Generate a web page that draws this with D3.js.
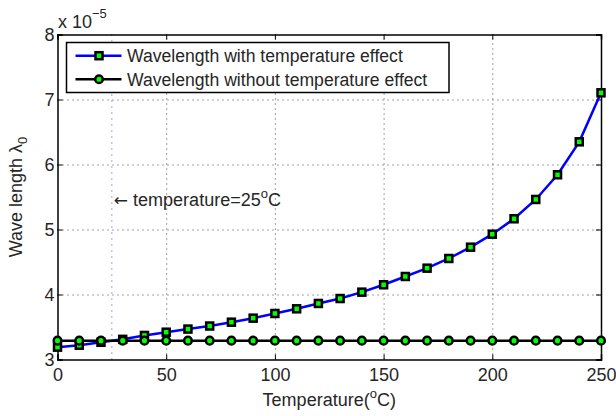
<!DOCTYPE html>
<html>
<head>
<meta charset="utf-8">
<script src="https://cdn.jsdelivr.net/npm/d3@7"></script>
<style>
  body { margin: 0; background: #fff; }
  svg text { font-family: "Liberation Sans", Arial, Helvetica, sans-serif; fill: #262626; }
</style>
</head>
<body>
<div id="graph1"></div>
<script>
// temperature in degrees C
const temps = [0, 10, 20, 30, 40, 50, 60, 70, 80, 90, 100, 110, 120, 130, 140, 150,
               160, 170, 180, 190, 200, 210, 220, 230, 240, 250]
// wavelength values, in units of 1e-5
const withTemp = [3.19, 3.22, 3.265, 3.31, 3.37, 3.42, 3.468, 3.515, 3.574, 3.636, 3.708,
                  3.78, 3.862, 3.938, 4.036, 4.15, 4.277, 4.405, 4.554, 4.728, 4.928,
                  5.165, 5.462, 5.842, 6.349, 7.103]
const withoutTemp = [3.29, 3.29, 3.29, 3.29, 3.29, 3.29, 3.29, 3.29, 3.29, 3.29, 3.29,
                     3.29, 3.29, 3.29, 3.29, 3.29, 3.29, 3.29, 3.29, 3.29, 3.29,
                     3.29, 3.29, 3.29, 3.29, 3.29]
const xTicks = [0, 50, 100, 150, 200, 250]
const yTicks = [3, 4, 5, 6, 7, 8]
const seriesNames = ["Wavelength with temperature effect", "Wavelength without temperature effect"]
const refTemp = 25

const width = 616, height = 416
const margin = {left: 57.5, right: 15, top: 34.5, bottom: 56.5}
const w = width - margin.left - margin.right
const h = height - margin.top - margin.bottom
const fs = "18px"

let svg = d3.select("#graph1")
    .append("svg")
    .attr("width", width)
    .attr("height", height)

let g = svg.append("g")
    .attr("transform", `translate(${margin.left}, ${margin.top})`)

let x = d3.scaleLinear().domain([0, 250]).range([0, w])
let y = d3.scaleLinear().domain([3, 8]).range([h, 0])

// dotted grid
let gridX = g.append("g")
    .attr("transform", `translate(0,${h})`)
    .call(d3.axisBottom(x).tickValues(xTicks.slice(1, -1)).tickSize(-h).tickFormat(""))
let gridY = g.append("g")
    .call(d3.axisLeft(y).tickValues(yTicks.slice(1, -1)).tickSize(-w).tickFormat(""))
;[gridX, gridY].forEach(gr => {
    gr.select(".domain").remove()
    gr.selectAll("line").attr("stroke", "#444").attr("stroke-width", 1).attr("stroke-dasharray", "1,4")
})

// reference line at 25 C
g.append("line")
    .attr("x1", x(refTemp)).attr("x2", x(refTemp))
    .attr("y1", 0).attr("y2", h)
    .attr("stroke", "#3b3bff")
    .attr("stroke-width", 1)
    .attr("stroke-dasharray", "1,5")

// axes, ticks pointing inward on all sides
let xAxis = g.append("g")
    .attr("transform", `translate(0,${h})`)
    .call(d3.axisBottom(x).tickValues(xTicks).tickSize(-5).tickPadding(8.5).tickFormat(d3.format("d")))
let xTop = g.append("g")
    .call(d3.axisTop(x).tickValues(xTicks).tickSize(-5).tickFormat(""))
let yAxis = g.append("g")
    .call(d3.axisLeft(y).tickValues(yTicks).tickSize(-5).tickPadding(3).tickFormat(d3.format("d")))
let yRight = g.append("g")
    .attr("transform", `translate(${w},0)`)
    .call(d3.axisRight(y).tickValues(yTicks).tickSize(-5).tickFormat(""))
;[xAxis, xTop, yAxis, yRight].forEach(a => {
    a.select(".domain").attr("stroke", "#000").attr("stroke-width", 1.5)
    a.selectAll("line").attr("stroke", "#000").attr("stroke-width", 1)
    a.selectAll("text").style("font-size", fs).attr("fill", "#262626")
})

// series with temperature effect
let line = d3.line().x((d, i) => x(temps[i])).y(d => y(d))

g.append("path")
    .datum(withTemp)
    .attr("fill", "none")
    .attr("stroke", "#0000ff")
    .attr("stroke-width", 2.5)
    .attr("d", line)

g.selectAll(".sq").data(withTemp).enter()
    .append("rect")
    .attr("class", "sq")
    .attr("x", (d, i) => x(temps[i]) - 3.5)
    .attr("y", d => y(d) - 3.5)
    .attr("width", 7)
    .attr("height", 7)
    .attr("fill", "#00ff00")
    .attr("stroke", "#000")
    .attr("stroke-width", 2.5)

// series without temperature effect
g.append("path")
    .datum(withoutTemp)
    .attr("fill", "none")
    .attr("stroke", "#000")
    .attr("stroke-width", 2.5)
    .attr("d", line)

g.selectAll(".ci").data(withoutTemp).enter()
    .append("circle")
    .attr("class", "ci")
    .attr("cx", (d, i) => x(temps[i]))
    .attr("cy", d => y(d))
    .attr("r", 3.8)
    .attr("fill", "#00ff00")
    .attr("stroke", "#000")
    .attr("stroke-width", 2.5)

// annotation
svg.append("text")
    .attr("x", margin.left + x(refTemp) + 2)
    .attr("y", 206)
    .style("font-size", fs)
    .html('<tspan font-family="DejaVu Sans" font-size="17px">\u2190</tspan> temperature=25<tspan dy="-8" font-size="13px">o</tspan><tspan dy="8">C</tspan>')

// legend
let legend = svg.append("g").attr("transform", "translate(66.5,42.5)")
legend.append("rect")
    .attr("width", 382.5).attr("height", 50)
    .attr("fill", "#fff").attr("stroke", "#000").attr("stroke-width", 1.5)
seriesNames.forEach((name, i) => {
    let ly = 13.2 + i * 23.6
    legend.append("line")
        .attr("x1", 9).attr("x2", 55).attr("y1", ly).attr("y2", ly)
        .attr("stroke", i == 0 ? "#0000ff" : "#000").attr("stroke-width", 2.5)
    if (i == 0) {
        legend.append("rect")
            .attr("x", 32.5 - 3.5).attr("y", ly - 3.5).attr("width", 7).attr("height", 7)
            .attr("fill", "#00ff00").attr("stroke", "#000").attr("stroke-width", 2.5)
    } else {
        legend.append("circle")
            .attr("cx", 32.5).attr("cy", ly).attr("r", 3.8)
            .attr("fill", "#00ff00").attr("stroke", "#000").attr("stroke-width", 2.5)
    }
    legend.append("text")
        .attr("x", 60.5).attr("y", ly + 6.3)
        .style("font-size", "17.6px")
        .text(name)
})

// exponent label
svg.append("text")
    .attr("x", 58).attr("y", 28.3)
    .style("font-size", fs)
    .html('x 10<tspan dy="-10" font-size="13px">\u22125</tspan>')

// axis titles
svg.append("text")
    .attr("x", margin.left + w / 2).attr("y", 406)
    .attr("text-anchor", "middle")
    .style("font-size", fs)
    .html('Temperature(<tspan dy="-8" font-size="13px">o</tspan><tspan dy="8">C)</tspan>')

svg.append("text")
    .attr("transform", `translate(22,${margin.top + h / 2}) rotate(-90)`)
    .attr("text-anchor", "middle")
    .style("font-size", fs)
    .html('Wave length \u03bb<tspan dy="5" font-size="13px">0</tspan>')
</script>
</body>
</html>
